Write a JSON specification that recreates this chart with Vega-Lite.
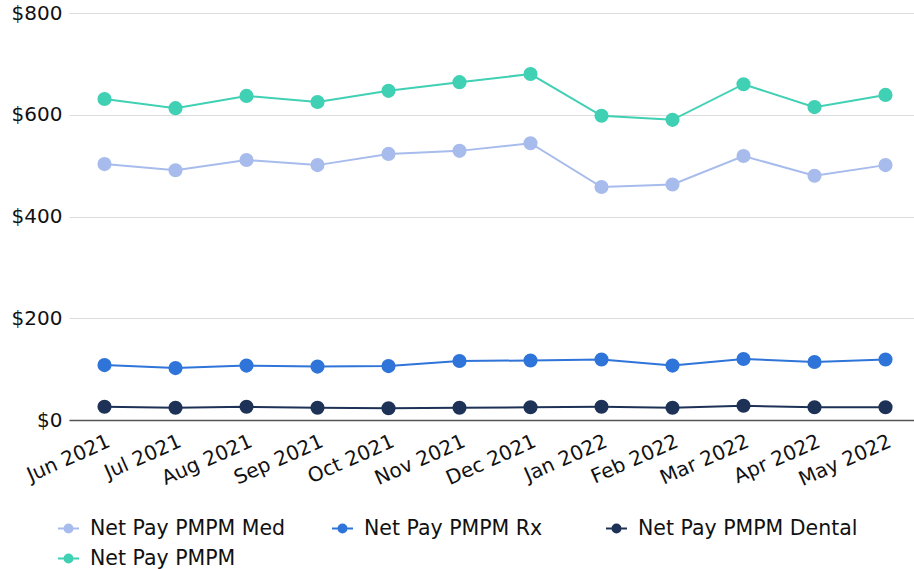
{
  "$schema": "https://vega.github.io/schema/vega-lite/v6.json",
  "autosize": {"type": "none"},
  "width": 852,
  "height": 407,
  "padding": {"left": 69, "top": 13, "right": 0, "bottom": 149},
  "background": "white",
  "config": {
    "view": {"stroke": null},
    "font": "DejaVu Sans"
  },
  "data": {
    "values": [
      {"month": "Jun 2021", "series": "Net Pay PMPM Med", "value": 503},
      {"month": "Jul 2021", "series": "Net Pay PMPM Med", "value": 491},
      {"month": "Aug 2021", "series": "Net Pay PMPM Med", "value": 511},
      {"month": "Sep 2021", "series": "Net Pay PMPM Med", "value": 501},
      {"month": "Oct 2021", "series": "Net Pay PMPM Med", "value": 523},
      {"month": "Nov 2021", "series": "Net Pay PMPM Med", "value": 529},
      {"month": "Dec 2021", "series": "Net Pay PMPM Med", "value": 544},
      {"month": "Jan 2022", "series": "Net Pay PMPM Med", "value": 458},
      {"month": "Feb 2022", "series": "Net Pay PMPM Med", "value": 463},
      {"month": "Mar 2022", "series": "Net Pay PMPM Med", "value": 519},
      {"month": "Apr 2022", "series": "Net Pay PMPM Med", "value": 480},
      {"month": "May 2022", "series": "Net Pay PMPM Med", "value": 501},
      {"month": "Jun 2021", "series": "Net Pay PMPM Rx", "value": 108},
      {"month": "Jul 2021", "series": "Net Pay PMPM Rx", "value": 102},
      {"month": "Aug 2021", "series": "Net Pay PMPM Rx", "value": 107},
      {"month": "Sep 2021", "series": "Net Pay PMPM Rx", "value": 105},
      {"month": "Oct 2021", "series": "Net Pay PMPM Rx", "value": 106},
      {"month": "Nov 2021", "series": "Net Pay PMPM Rx", "value": 116},
      {"month": "Dec 2021", "series": "Net Pay PMPM Rx", "value": 117},
      {"month": "Jan 2022", "series": "Net Pay PMPM Rx", "value": 119},
      {"month": "Feb 2022", "series": "Net Pay PMPM Rx", "value": 107},
      {"month": "Mar 2022", "series": "Net Pay PMPM Rx", "value": 120},
      {"month": "Apr 2022", "series": "Net Pay PMPM Rx", "value": 114},
      {"month": "May 2022", "series": "Net Pay PMPM Rx", "value": 119},
      {"month": "Jun 2021", "series": "Net Pay PMPM Dental", "value": 26},
      {"month": "Jul 2021", "series": "Net Pay PMPM Dental", "value": 24},
      {"month": "Aug 2021", "series": "Net Pay PMPM Dental", "value": 26},
      {"month": "Sep 2021", "series": "Net Pay PMPM Dental", "value": 24},
      {"month": "Oct 2021", "series": "Net Pay PMPM Dental", "value": 23},
      {"month": "Nov 2021", "series": "Net Pay PMPM Dental", "value": 24},
      {"month": "Dec 2021", "series": "Net Pay PMPM Dental", "value": 25},
      {"month": "Jan 2022", "series": "Net Pay PMPM Dental", "value": 26},
      {"month": "Feb 2022", "series": "Net Pay PMPM Dental", "value": 24},
      {"month": "Mar 2022", "series": "Net Pay PMPM Dental", "value": 28},
      {"month": "Apr 2022", "series": "Net Pay PMPM Dental", "value": 25},
      {"month": "May 2022", "series": "Net Pay PMPM Dental", "value": 25},
      {"month": "Jun 2021", "series": "Net Pay PMPM", "value": 631},
      {"month": "Jul 2021", "series": "Net Pay PMPM", "value": 613},
      {"month": "Aug 2021", "series": "Net Pay PMPM", "value": 637},
      {"month": "Sep 2021", "series": "Net Pay PMPM", "value": 625},
      {"month": "Oct 2021", "series": "Net Pay PMPM", "value": 647},
      {"month": "Nov 2021", "series": "Net Pay PMPM", "value": 664},
      {"month": "Dec 2021", "series": "Net Pay PMPM", "value": 680},
      {"month": "Jan 2022", "series": "Net Pay PMPM", "value": 598},
      {"month": "Feb 2022", "series": "Net Pay PMPM", "value": 590},
      {"month": "Mar 2022", "series": "Net Pay PMPM", "value": 660},
      {"month": "Apr 2022", "series": "Net Pay PMPM", "value": 615},
      {"month": "May 2022", "series": "Net Pay PMPM", "value": 639}
    ]
  },
  "encoding": {
    "x": {
      "field": "month",
      "type": "ordinal",
      "sort": null,
      "scale": {"type": "point", "padding": 0.5},
      "axis": {
        "title": null,
        "labelAngle": -24,
        "labelAlign": "right",
        "labelBaseline": "top",
        "labelFontSize": 20,
        "labelColor": "#111",
        "labelPadding": 11,
        "labelOverlap": false,
        "ticks": false,
        "domainColor": "#555",
        "domainWidth": 1.5,
        "grid": false
      }
    },
    "y": {
      "field": "value",
      "type": "quantitative",
      "scale": {"domain": [0, 800]},
      "axis": {
        "title": null,
        "values": [0, 200, 400, 600, 800],
        "format": "$,.0f",
        "labelFontSize": 20,
        "labelColor": "#111",
        "labelPadding": 7,
        "ticks": false,
        "domain": false,
        "gridColor": "#dcdcdc",
        "gridWidth": 1
      }
    },
    "color": {
      "field": "series",
      "type": "nominal",
      "sort": null,
      "scale": {
        "domain": ["Net Pay PMPM Med", "Net Pay PMPM Rx", "Net Pay PMPM Dental", "Net Pay PMPM"],
        "range": ["#a7bcec", "#2f74d8", "#1d3256", "#40d0b4"]
      },
      "legend": {
        "title": null,
        "orient": "none",
        "legendX": -12,
        "legendY": 504,
        "direction": "horizontal",
        "columns": 3,
        "columnPadding": 18,
        "rowPadding": 8,
        "gridAlign": "all",
        "labelFontSize": 20.5,
        "labelLimit": 0,
        "labelColor": "#111",
        "labelOffset": 10,
        "symbolType": "M-1,0H1M0.38,0A0.38,0.38 0 1,1 -0.38,0A0.38,0.38 0 1,1 0.38,0Z",
        "symbolSize": 441,
        "symbolStrokeWidth": 2,
        "encode": {
          "symbols": {
            "update": {
              "fill": {"scale": "color", "field": "value"},
              "stroke": {"scale": "color", "field": "value"},
              "strokeWidth": {"value": 2},
              "opacity": {"value": 1}
            }
          }
        }
      }
    }
  },
  "layer": [
    {"mark": {"type": "line", "strokeWidth": 2}},
    {"mark": {"type": "point", "filled": true, "size": 200, "opacity": 1}}
  ]
}
